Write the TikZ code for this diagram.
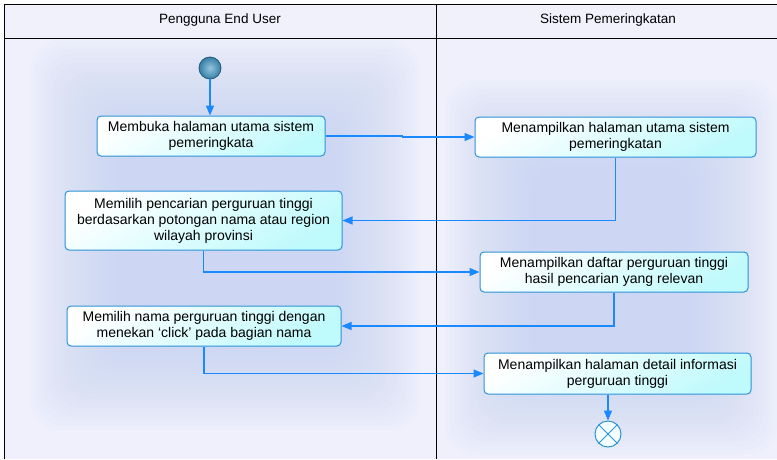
\documentclass[tikz,border=0pt]{standalone}
\usepackage{fontspec}
\setmainfont{Liberation Sans}
\usetikzlibrary{arrows.meta}
\definecolor{lanebg}{HTML}{EFF0FC}
\definecolor{headbg}{HTML}{F1F1FC}
\definecolor{glow}{HTML}{C4D3F3}
\definecolor{flow}{HTML}{1A88FF}
\definecolor{boxline}{HTML}{2E92D6}
\definecolor{boxfill}{HTML}{BFFAFC}
\definecolor{startfill}{HTML}{3F95C4}
\tikzset{
  act/.style={draw=boxline, line width=1pt, rounded corners=4pt,
    top color=white, bottom color=boxfill, shading angle=30,
    align=center, inner sep=2pt, font=\fontsize{14}{16}\selectfont},
  flowline/.style={draw=flow, line width=1.3pt, -{Triangle[length=10pt,width=8pt]}},
  lanehead/.style={font=\fontsize{13.5}{16}\selectfont},
  frame/.style={draw=black, line width=0.9pt},
}
\begin{document}
\begin{tikzpicture}[x=1pt,y=-1pt]
\useasboundingbox (0,0) rectangle (777,459);
% swimlane backgrounds
\fill[white] (0,0) rectangle (777,459);
\fill[headbg] (4.5,4.5) rectangle (777,38);
\fill[lanebg] (4.5,38) rectangle (777,459);
% soft glow behind each lane's activities
\foreach \i in {0,...,19}{
  \fill[glow, opacity=0.055, rounded corners=30pt]
    (30+\i*4.5,40+\i*4.5) rectangle (420-\i*4.5,430-\i*4.5);
  \fill[glow, opacity=0.055, rounded corners=30pt]
    (445+\i*4.5,80+\i*4.5) rectangle (777-\i*4.5,455-\i*4.5);
}
% lane frame
\draw[frame] (4.5,459) -- (4.5,4.5) -- (777,4.5);
\draw[frame] (4.5,38) -- (777,38);
\draw[frame] (436,4.5) -- (436,459);
\node[lanehead] (h1) at (220,20) {Pengguna End User};
\node[lanehead] (h2) at (608,20) {Sistem Pemeringkatan};

% initial node
\node[circle, draw=startfill!60!black, line width=0.8pt,
      inner color=startfill!55!white, outer color=startfill!85!black,
      minimum size=22pt, inner sep=0pt] (start) at (210,68) {};

% activities
\node[act, minimum width=228pt, minimum height=40pt] (b1) at (211,136)
  {Membuka halaman utama sistem\\pemeringkata};
\node[act, minimum width=281pt, minimum height=40pt] (b2) at (615.5,137)
  {Menampilkan halaman utama sistem\\pemeringkatan};
\node[act, minimum width=277pt, minimum height=59pt] (b3) at (203.5,220.5)
  {Memilih pencarian perguruan tinggi\\berdasarkan potongan nama atau region\\wilayah provinsi};
\node[act, minimum width=268pt, minimum height=40pt] (b4) at (614,272)
  {Menampilkan daftar perguruan tinggi\\hasil pencarian yang relevan};
\node[act, minimum width=274pt, minimum height=40pt] (b5) at (204,326)
  {Memilih nama perguruan tinggi dengan\\menekan ‘click’ pada bagian nama};
\node[act, minimum width=267pt, minimum height=41pt] (b6) at (617.5,373.5)
  {Menampilkan halaman detail informasi\\perguruan tinggi};

% final node
\node[circle, draw=boxline, line width=1pt, fill=white!85!boxfill,
      minimum size=26pt, inner sep=0pt,
      path picture={\draw[boxline, line width=1pt]
        (path picture bounding box.north west) -- (path picture bounding box.south east)
        (path picture bounding box.north east) -- (path picture bounding box.south west);}]
  (end) at (608,434) {};

% control flow
\draw[flowline] (start) -- (b1.north -| start);
\draw[flowline] (b1.east) -- ++(77,0) |- (b2.west);
\draw[flowline] (b2.south) |- (b3.east);
\draw[flowline] (b3.south) |- (b4.west);
\draw[flowline] (b4.south) |- (b5.east);
\draw[flowline] (b5.south) |- (b6.west);
\draw[flowline] (b6.south -| end) -- (end);
\end{tikzpicture}
\end{document}
